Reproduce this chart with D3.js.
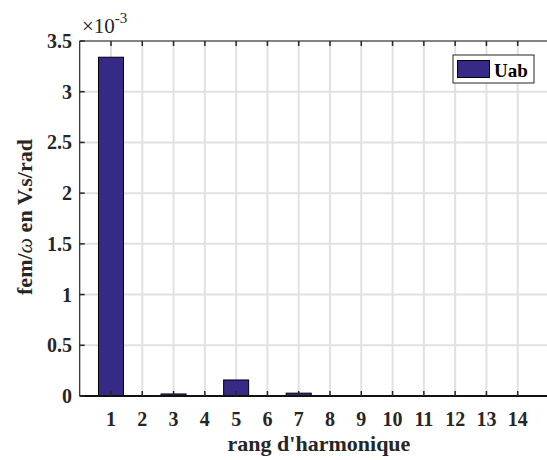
<!DOCTYPE html>
<html><head><meta charset="utf-8">
<script src="https://cdn.jsdelivr.net/npm/d3@7"></script>
<style>body{margin:0;background:#fff}svg{display:block}</style>
</head><body>
<svg id="c" width="547" height="460"></svg>
<script>
const harmonics = [1,2,3,4,5,6,7,8,9,10,11,12,13,14];
const uab = [3.34e-3, 0.003e-3, 0.02e-3, 0.002e-3, 0.158e-3, 0.003e-3, 0.028e-3, 0.002e-3, 0.001e-3, 0.001e-3, 0.001e-3, 0.001e-3, 0.001e-3, 0.001e-3];
const yTicks = [0, 0.5e-3, 1e-3, 1.5e-3, 2e-3, 2.5e-3, 3e-3, 3.5e-3];
const yTickLabels = ["0","0.5","1","1.5","2","2.5","3","3.5"];
const seriesName = "Uab";

const svg = d3.select("#c");
const L = 79.7, R = 549, T = 41, B = 396;
const x = d3.scaleLinear().domain([0,15]).range([L,R]);
const y = d3.scaleLinear().domain([0,3.5e-3]).range([B,T]);
const barColor = "#352b87";
const FF = "'Liberation Serif', 'Times New Roman', Tinos, 'DejaVu Serif', serif";
function font(sel, size, weight, styleName){
  return sel.style("font-family",FF).style("font-size",size+"px")
    .style("font-weight",weight||"normal").style("font-style",styleName||"normal");
}

// grid
const g = svg.append("g");
g.selectAll(".gx").data(harmonics).enter().append("line")
  .attr("x1",d=>x(d)).attr("x2",d=>x(d)).attr("y1",T).attr("y2",B)
  .attr("stroke","#e1e1e1").attr("stroke-width",2);
g.selectAll(".gy").data(yTicks).enter().append("line")
  .attr("x1",L).attr("x2",R).attr("y1",d=>y(d)).attr("y2",d=>y(d))
  .attr("stroke","#e1e1e1").attr("stroke-width",2);

// bars
const bw = (x(1)-x(0))*0.8;
svg.selectAll(".bar").data(harmonics).enter().append("rect")
  .attr("x",d=>x(d)-bw/2).attr("width",bw)
  .attr("y",(d,i)=>y(uab[i])).attr("height",(d,i)=>Math.max(0.5,B-y(uab[i])))
  .attr("fill",barColor).attr("stroke","#000").attr("stroke-width",1);

// axes lines
svg.append("line").attr("x1",L).attr("x2",R).attr("y1",B).attr("y2",B).attr("stroke","#111").attr("stroke-width",2);
svg.append("line").attr("x1",L).attr("x2",R).attr("y1",T).attr("y2",T).attr("stroke","#262626").attr("stroke-width",1.2);
svg.append("line").attr("x1",L).attr("x2",L).attr("y1",T).attr("y2",B).attr("stroke","#262626").attr("stroke-width",1.2);

// ticks
svg.selectAll(".tb").data(harmonics).enter().append("line")
  .attr("x1",d=>x(d)).attr("x2",d=>x(d)).attr("y1",B).attr("y2",B-5).attr("stroke","#262626").attr("stroke-width",1.5);
svg.selectAll(".tt").data(harmonics).enter().append("line")
  .attr("x1",d=>x(d)).attr("x2",d=>x(d)).attr("y1",T).attr("y2",T+5).attr("stroke","#262626").attr("stroke-width",1.5);
svg.selectAll(".tl").data(yTicks).enter().append("line")
  .attr("x1",L).attr("x2",L+5).attr("y1",d=>y(d)).attr("y2",d=>y(d)).attr("stroke","#262626").attr("stroke-width",1.5);

// tick labels
font(svg.selectAll(".xl").data(harmonics).enter().append("text")
  .attr("x",d=>x(d)).attr("y",426).attr("text-anchor","middle").attr("fill","#262626")
  .text(d=>d), 20, "bold");
font(svg.selectAll(".yl").data(yTicks).enter().append("text")
  .attr("x",72).attr("y",d=>y(d)+7).attr("text-anchor","end").attr("fill","#262626")
  .text((d,i)=>yTickLabels[i]), 20, "bold");

// exponent
const ex = font(svg.append("text").attr("x",82).attr("y",33).attr("fill","#262626"), 21);
ex.append("tspan").text("\u00d710");
ex.append("tspan").attr("dy",-10).style("font-size","15px").text("-3");

// axis labels
font(svg.append("text").attr("x",319).attr("y",451).attr("text-anchor","middle").attr("fill","#262626")
  .text("rang d'harmonique"), 22, "bold");
const yl = font(svg.append("text").attr("transform","translate(32,217) rotate(-90)").attr("text-anchor","middle")
  .attr("fill","#262626"), 22, "bold");
yl.append("tspan").text("fem/");
yl.append("tspan").style("font-style","italic").style("font-weight","normal").text("\u03c9");
yl.append("tspan").text(" en V.s/rad");

// legend
svg.append("rect").attr("x",453).attr("y",55).attr("width",81).attr("height",28)
  .attr("fill","#fff").attr("stroke","#262626").attr("stroke-width",1);
svg.append("rect").attr("x",457.5).attr("y",60.5).attr("width",32).attr("height",17)
  .attr("fill",barColor).attr("stroke","#000").attr("stroke-width",1);
font(svg.append("text").attr("x",494).attr("y",77).attr("fill","#000")
  .text(seriesName), 19, "bold");
</script>
</body></html>
